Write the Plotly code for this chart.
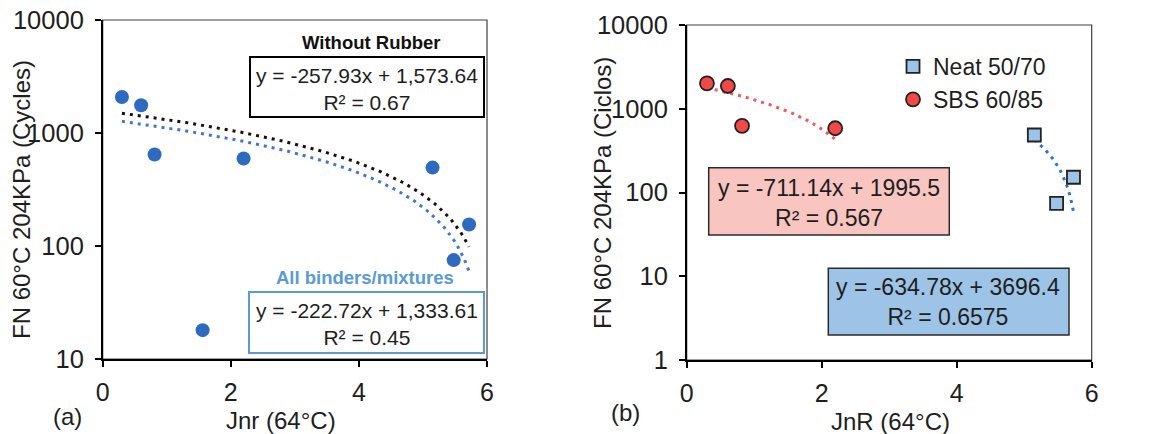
import numpy as np
import plotly.graph_objects as go

# ---------------- data ----------------
# Panel (a): all binders / mixtures
jnr_a = [0.30, 0.60, 0.81, 1.56, 2.20, 5.15, 5.48, 5.72]
fn_a = [2080, 1760, 645, 18, 594, 494, 75, 155]

# Panel (b)
neat_jnr = [5.15, 5.48, 5.73]
neat_fn = [486, 74, 152]
sbs_jnr = [0.30, 0.61, 0.82, 2.20]
sbs_fn = [2010, 1870, 625, 585]

# Linear trendlines (slope, intercept, x-start, x-end) shown on the chart
trend_names = ["without_rubber", "all_binders", "sbs", "neat"]
trend_slope = [-257.93, -222.72, -711.14, -634.78]
trend_intercept = [1573.64, 1333.61, 1995.5, 3696.4]
trend_x0 = [0.30, 0.30, 0.30, 5.15]
trend_x1 = [5.72, 5.72, 2.20, 5.73]

eq_texts = ["y = -257.93x + 1,573.64<br>R² = 0.67",
            "y = -222.72x + 1,333.61<br>R² = 0.45",
            "y = -711.14x + 1995.5<br>R² = 0.567",
            "y = -634.78x + 3696.4<br>R² = 0.6575"]

x_ticks = [0, 2, 4, 6]
y_ticks_a = [10, 100, 1000, 10000]
y_ticks_b = [1, 10, 100, 1000, 10000]

# ---------------- layout helpers ----------------
W, H = 1158, 434
def px(x):
    return x / W
def py(y):
    return 1 - y / H

FONT = "Arial, Liberation Sans, sans-serif"
TXT = "#1e1e1e"

fig = go.Figure()

def trend(i):
    xs = np.linspace(trend_x0[i], trend_x1[i], 120)
    return xs, trend_slope[i] * xs + trend_intercept[i]

# Panel (a) trendlines
xs, ys = trend(0)
fig.add_trace(go.Scatter(x=xs, y=ys, mode="lines", xaxis="x", yaxis="y",
                         line=dict(color="#111111", width=3, dash="3px,5px"),
                         showlegend=False, hoverinfo="skip"))
xs, ys = trend(1)
fig.add_trace(go.Scatter(x=xs, y=ys, mode="lines", xaxis="x", yaxis="y",
                         line=dict(color="#4177C8", width=3, dash="3px,5px"),
                         showlegend=False, hoverinfo="skip"))
fig.add_trace(go.Scatter(x=jnr_a, y=fn_a, mode="markers", xaxis="x", yaxis="y",
                         marker=dict(color="#2E6BC0", size=14),
                         showlegend=False, name="All"))

# Panel (b)
xs, ys = trend(2)
fig.add_trace(go.Scatter(x=xs, y=ys, mode="lines", xaxis="x2", yaxis="y2",
                         line=dict(color="#EE5B5B", width=3, dash="3px,5px"),
                         showlegend=False, hoverinfo="skip"))
xs, ys = trend(3)
fig.add_trace(go.Scatter(x=xs, y=ys, mode="lines", xaxis="x2", yaxis="y2",
                         line=dict(color="#2E72C0", width=3, dash="3px,5px"),
                         showlegend=False, hoverinfo="skip"))
fig.add_trace(go.Scatter(x=neat_jnr, y=neat_fn, mode="markers", xaxis="x2", yaxis="y2",
                         name="Neat 50/70",
                         marker=dict(symbol="square", color="#9DC3E6", size=13,
                                     line=dict(color="#222222", width=1.8))))
fig.add_trace(go.Scatter(x=sbs_jnr, y=sbs_fn, mode="markers", xaxis="x2", yaxis="y2",
                         name="SBS 60/85",
                         marker=dict(symbol="circle", color="#F24848", size=14,
                                     line=dict(color="#222222", width=1.8))))

axis_common = dict(showgrid=False, zeroline=False, showline=True, linecolor="#000000",
                   linewidth=1.5, ticks="outside", ticklen=6, tickwidth=1.5,
                   tickcolor="#000000", automargin=False)
xfont = dict(family=FONT, size=25, color=TXT)
yfont = dict(family=FONT, size=25.5, color=TXT)

fig.update_layout(
    width=W, height=H, margin=dict(l=0, r=0, t=0, b=0, pad=0, autoexpand=False),
    paper_bgcolor="white", plot_bgcolor="white",
    font=dict(family=FONT, color=TXT),
    xaxis=dict(domain=[px(102.7), px(487)], range=[0, 6], tickvals=x_ticks,
               anchor="y", ticklabelstandoff=4, tickfont=xfont, **axis_common),
    yaxis=dict(domain=[py(359), py(20)], type="log", range=[1, 4], tickvals=y_ticks_a,
               ticktext=[str(v) for v in y_ticks_a], anchor="x", ticklabelstandoff=6,
               tickfont=yfont, **axis_common),
    xaxis2=dict(domain=[px(686.7), px(1091.7)], range=[0, 6], tickvals=x_ticks,
                anchor="y2", ticklabelstandoff=4, tickfont=xfont, **axis_common),
    yaxis2=dict(domain=[py(360), py(25)], type="log", range=[0, 4], tickvals=y_ticks_b,
                ticktext=[str(v) for v in y_ticks_b], anchor="x2", ticklabelstandoff=6,
                tickfont=yfont, **axis_common),
    showlegend=True,
    legend=dict(x=px(893), y=py(45), xanchor="left", yanchor="top",
                font=dict(family=FONT, size=23, color=TXT),
                bgcolor="rgba(0,0,0,0)", borderwidth=0, itemsizing="trace",
                tracegroupgap=0),
)

shapes = []
# plot-area frames
for xr, yr in (("x domain", "y domain"), ("x2 domain", "y2 domain")):
    shapes.append(dict(type="rect", xref=xr, yref=yr, x0=0, x1=1, y0=0, y1=1,
                       line=dict(color="#404040", width=1.2), layer="below"))
# equation boxes
boxes = [
    (250, 484, 57, 117, "#000000", 2, "rgba(255,255,255,1)"),
    (249, 484, 292, 353, "#5B9BD5", 2, "rgba(255,255,255,1)"),
    (708.7, 949.3, 167.7, 235, "#2b2b2b", 1.5, "#F8C5C0"),
    (828.3, 1069, 268.3, 335, "#2b2b2b", 1.5, "#9DC3E6"),
]
for x0, x1, y0, y1, lc, lw, fc in boxes:
    shapes.append(dict(type="rect", xref="paper", yref="paper",
                       x0=px(x0), x1=px(x1), y0=py(y1), y1=py(y0),
                       line=dict(color=lc, width=lw), fillcolor=fc, layer="above"))
fig.update_layout(shapes=shapes)

def ann(text, x, y, size, color=TXT, bold=False, angle=0):
    t = f"<b>{text}</b>" if bold else text
    fig.add_annotation(text=t, x=px(x), y=py(y), xref="paper", yref="paper",
                       xanchor="center", yanchor="middle", showarrow=False,
                       textangle=angle, font=dict(family=FONT, size=size, color=color))

ann("FN 60°C 204KPa (Cycles)", 21, 200, 24, angle=-90)
ann("FN 60°C 204KPa (Ciclos)", 602, 193, 24, angle=-90)
ann("Jnr (64°C)", 281, 420, 24)
ann("JnR (64°C)", 890, 421, 24)
ann("(a)", 67, 416, 24)
ann("(b)", 625, 412, 24)
ann("Without Rubber", 371, 42, 18.5, color="#111111", bold=True)
ann("All binders/mixtures", 365, 277, 18.5, color="#5A9BD5", bold=True)
ann(eq_texts[0], 367, 89, 21)
ann(eq_texts[1], 367, 323.5, 21)
ann(eq_texts[2], 829, 202.5, 23)
ann(eq_texts[3], 948, 302, 23)

fig.write_html("out.html")
